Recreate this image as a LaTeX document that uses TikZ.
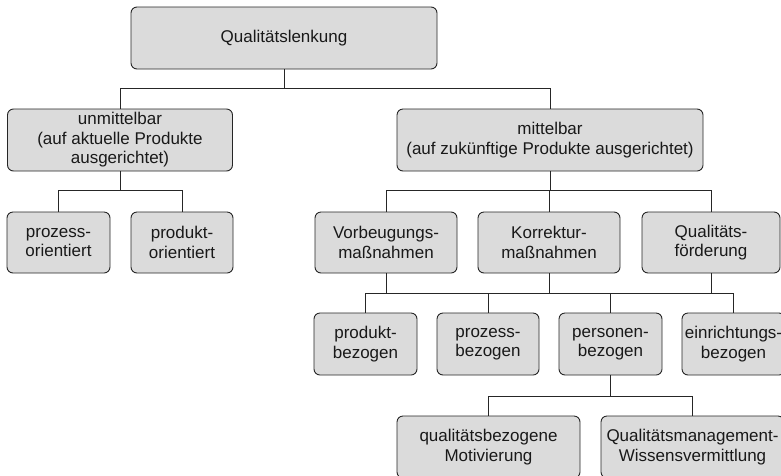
\documentclass[tikz,border=0pt]{standalone}
\usepackage{fontspec}
\setmainfont{Liberation Sans}
\usetikzlibrary{calc}
\begin{document}
\begin{tikzpicture}[x=1pt,y=-1pt,
  box/.style={draw=black!85, line width=0.9pt, fill=black!14, rounded corners=6pt,
    align=center, inner sep=0pt, text=black!90,
    font=\fontsize{17}{19.5}\selectfont},
  link/.style={draw=black!85, line width=0.9pt}]
\useasboundingbox (0,0) rectangle (781,475);
\clip (0,0) rectangle (781,475);
\fill[white] (0,0) rectangle (781,475);

% level 0
\node[box, minimum width=306pt, minimum height=62pt] (top) at (284,38) {Qualitätslenkung};

% level 1
\node[box, minimum width=225pt, minimum height=62pt] (unm) at (120,140)
  {unmittelbar\\(auf aktuelle Produkte\\ausgerichtet)};
\node[box, minimum width=306pt, minimum height=62pt] (mit) at (550,140)
  {mittelbar\\(auf zukünftige Produkte ausgerichtet)};

% level 2
\node[box, minimum width=103pt, minimum height=61pt] (pzo) at (58.5,242.5) {prozess-\\orientiert};
\node[box, minimum width=102pt, minimum height=61pt] (pdo) at (182,242.5) {produkt-\\orientiert};
\node[box, minimum width=142pt, minimum height=61pt] (vor) at (386,242.5) {Vorbeugungs-\\maßnahmen};
\node[box, minimum width=142pt, minimum height=61pt] (kor) at (549,242.5) {Korrektur-\\maßnahmen};
\node[box, minimum width=138pt, minimum height=61pt] (qf) at (711,242.5) {Qualitäts-\\förderung};

% level 3
\node[box, minimum width=103pt, minimum height=62pt] (pb) at (365.5,344) {produkt-\\bezogen};
\node[box, minimum width=102pt, minimum height=62pt] (zb) at (488,344) {prozess-\\bezogen};
\node[box, minimum width=103pt, minimum height=62pt] (peb) at (610.5,344) {personen-\\bezogen};
\node[box, minimum width=103pt, minimum height=62pt] (eb) at (733.5,344) {einrichtungs-\\bezogen};

% level 4
\node[box, minimum width=183pt, minimum height=62pt] (qm) at (488.5,447) {qualitätsbezogene\\Motivierung};
\node[box, minimum width=183pt, minimum height=62pt] (qw) at (692.5,447) {Qualitätsmanagement-\\Wissensvermittlung};

% bus lines
\coordinate (b1) at (0,88);
\coordinate (b2) at (0,190.5);
\coordinate (b3) at (0,293);
\coordinate (b4) at (0,396);

\draw[link] (top.south) -- (top.south |- b1) -| (unm.north);
\draw[link] (top.south |- b1) -| (mit.north);

\draw[link] (unm.south) -- (unm.south |- b2) -| (pzo.north);
\draw[link] (unm.south |- b2) -| (pdo.north);

\draw[link] (mit.south) -- (mit.south |- b2) -| (vor.north);
\draw[link] (mit.south |- b2) -| (kor.north);
\draw[link] (mit.south |- b2) -| (qf.north);

\draw[link] (vor.south) -- (vor.south |- b3);
\draw[link] (kor.south) -- (kor.south |- b3);
\draw[link] (qf.south) -- (qf.south |- b3);
\draw[link] (pb.north) -- (pb.north |- b3) -- (eb.north |- b3) -- (eb.north);
\draw[link] (zb.north) -- (zb.north |- b3);
\draw[link] (peb.north) -- (peb.north |- b3);

\draw[link] (peb.south) -- (peb.south |- b4) -| (qm.north);
\draw[link] (peb.south |- b4) -| (qw.north);
\end{tikzpicture}
\end{document}
